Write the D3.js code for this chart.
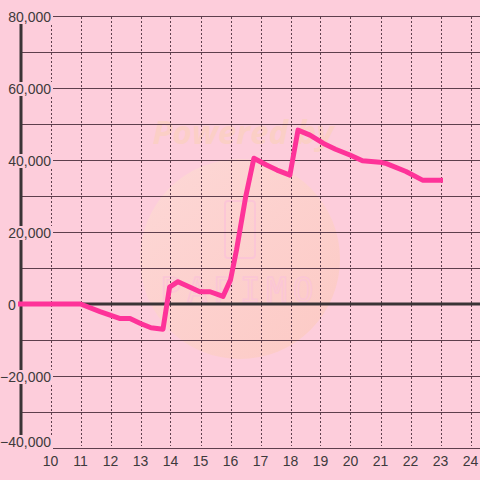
<!DOCTYPE html>
<html><head><meta charset="utf-8">
<script src="https://cdn.jsdelivr.net/npm/d3@7"></script>
<style>html,body{margin:0;padding:0;background:#fdcddb;}svg{display:block;}</style>
</head><body>
<svg id="chart" width="480" height="480"></svg>
<script>
const xTicks = [10,11,12,13,14,15,16,17,18,19,20,21,22,23,24];
const yTickLabels = [80000,60000,40000,20000,0,-20000,-40000];
const yGrid = [80000,70000,60000,50000,40000,30000,20000,10000,0,-10000,-20000,-30000,-40000];
const xs = [9,11,11.65,12.3,12.65,13.0,13.35,13.75,13.97,14.25,14.98,15.32,15.75,16.0,16.2,16.5,16.78,17.2,17.55,17.98,18.25,18.65,19.1,19.5,19.98,20.4,20.98,21.2,21.85,22.4,23.0];
const vals = [0,0,-2100,-4000,-4000,-5400,-6600,-7000,4700,6200,3400,3400,2100,6700,15000,29500,40500,38600,37200,35800,48300,46900,44600,43000,41400,39800,39400,39000,36800,34400,34400];

const svg = d3.select("#chart");
const W = 480, H = 480;
const x = d3.scaleLinear().domain([9, 24]).range([20.5, 470.5]);
const y = d3.scaleLinear().domain([-40000, 80000]).range([448, 16]);
const fmt = d3.format(",");
const BG = "#fdcddb";

svg.append("rect").attr("width", W).attr("height", H).attr("fill", BG);

// watermark
const defs = svg.append("defs");
const g1 = defs.append("linearGradient").attr("id","wm").attr("x1","0").attr("y1","0").attr("x2","1").attr("y2","1");
g1.append("stop").attr("offset","0").attr("stop-color","#fdd9d6");
g1.append("stop").attr("offset","1").attr("stop-color","#fcc9c2");
svg.append("circle").attr("cx", 240).attr("cy", 259).attr("r", 100).attr("fill", "url(#wm)").attr("opacity", 0.9);
svg.append("text").attr("x", 243).attr("y", 144).attr("text-anchor","middle")
  .attr("font-family","Open Sans, sans-serif").attr("font-weight","bold").attr("font-style","italic")
  .attr("font-size", 33).attr("fill", "#fbcfc6").text("Powered by");
svg.append("rect").attr("x", 225).attr("y", 201).attr("width", 30).attr("height", 57).attr("rx", 3)
  .attr("fill","none").attr("stroke","#fbc6d6").attr("stroke-width",2);
svg.append("text").attr("x", 240).attr("y", 302).attr("text-anchor","middle")
  .attr("font-family","DejaVu Sans Mono, monospace").attr("font-size", 34).attr("letter-spacing", 6)
  .attr("fill","none").attr("stroke","#fbc6d6").attr("stroke-width",1.5).text("PAPIMO");

// horizontal grid
svg.append("g").selectAll("line").data(yGrid).join("line")
  .attr("x1", 20).attr("x2", W)
  .attr("y1", d => Math.round(y(d)) + 0.5).attr("y2", d => Math.round(y(d)) + 0.5)
  .attr("stroke", "#5e3f4d").attr("stroke-width", 1);

// vertical dotted grid
svg.append("g").selectAll("line").data(xTicks).join("line")
  .attr("x1", d => Math.round(x(d)) + 0.5).attr("x2", d => Math.round(x(d)) + 0.5)
  .attr("y1", 17).attr("y2", 446)
  .attr("stroke", "#5e3f4d").attr("stroke-width", 1).attr("stroke-dasharray", "2,2");

// zero line
svg.append("line").attr("x1", 20).attr("x2", W).attr("y1", y(0)).attr("y2", y(0))
  .attr("stroke", "#3a3436").attr("stroke-width", 3);

// y axis line
svg.append("line").attr("x1", 21).attr("x2", 21).attr("y1", y(80000)).attr("y2", y(-40000))
  .attr("stroke", "#3a3436").attr("stroke-width", 3);

// y labels with tight background
const yl = svg.append("g");
yTickLabels.forEach(v => {
  let cy = y(v) + 1;
  if (v === -40000) cy = y(v) - 6;
  const t = yl.append("text")
    .attr("font-family", "Liberation Sans, Arial, sans-serif").attr("font-size", 14)
    .attr("fill", "#3d3a3c").text(fmt(v));
  const w = t.node().getComputedTextLength();
  if (w < 20) t.attr("x", 8).attr("text-anchor", "start");
  else t.attr("x", 51).attr("text-anchor", "end");
  t.attr("y", cy + 5);
  const left = w < 20 ? 8 : 51 - w;
  yl.insert("rect", "text").attr("x", left - 2).attr("y", cy - 7).attr("width", w + 4).attr("height", 14).attr("fill", BG);
});

// data line
const line = d3.line().x((d,i) => x(xs[i])).y((d,i) => y(vals[i]));
svg.append("path").datum(vals).attr("d", line).attr("fill", "none")
  .attr("stroke", "#fe3399").attr("stroke-width", 5).attr("stroke-linejoin", "round").attr("stroke-linecap", "square");

// x labels
svg.append("g").selectAll("text").data(xTicks).join("text")
  .attr("x", d => x(d)).attr("y", 466).attr("text-anchor", "middle")
  .attr("font-family", "Liberation Sans, Arial, sans-serif").attr("font-size", 14)
  .attr("fill", "#3d3a3c").text(d => d);
</script>
</body></html>
